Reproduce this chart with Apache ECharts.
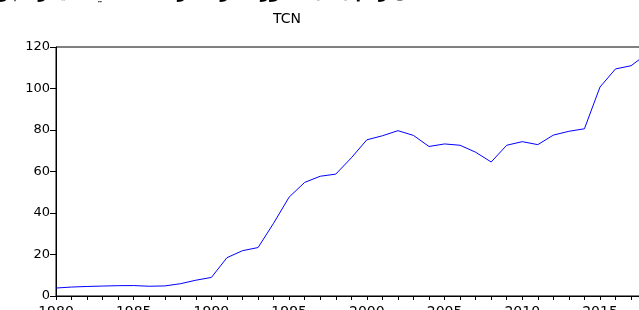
<!DOCTYPE html>
<html>
<head>
    <meta charset="utf-8">
    <title>TCN</title>
    <style>
        html, body { margin: 0; padding: 0; background: #fff; }
        #main { width: 639px; height: 310px; }
    </style>
</head>
<body>
<div id="main"></div>

<script src="https://cdn.jsdelivr.net/npm/echarts@6/dist/echarts.min.js"></script>
<script>
    // سنوات و قيم سعر الصرف الاسمي (TCN)
    var years = [1980, 1981, 1982, 1983, 1984, 1985, 1986, 1987, 1988, 1989,
                 1990, 1991, 1992, 1993, 1994, 1995, 1996, 1997, 1998, 1999,
                 2000, 2001, 2002, 2003, 2004, 2005, 2006, 2007, 2008, 2009,
                 2010, 2011, 2012, 2013, 2014, 2015, 2016, 2017, 2018];
    var tcn = [3.84, 4.32, 4.59, 4.79, 4.98, 5.03, 4.70, 4.85, 5.91, 7.61,
               8.96, 18.47, 21.84, 23.35, 35.06, 47.66, 54.75, 57.71, 58.74, 66.57,
               75.26, 77.22, 79.68, 77.39, 72.06, 73.28, 72.65, 69.29, 64.58, 72.65,
               74.39, 72.94, 77.54, 79.37, 80.58, 100.69, 109.44, 110.97, 116.59];
    var yTicks = [0, 20, 40, 60, 80, 100, 120];

    var chartTitle = 'TCN';
    var caption = 'الشكل رقم (01): تطور سعر الصرف الاسمي للدينار الجزائري';

    var myChart = echarts.init(document.getElementById('main'));

    var font = 'DejaVu Sans';

    myChart.setOption({
        animation: false,
        backgroundColor: '#fff',
        graphic: [
            {
                type: 'text',
                x: 445,
                y: -14,
                style: {
                    text: caption,
                    font: 'bold 16px "DejaVu Sans"',
                    fill: '#000',
                    align: 'right',
                    verticalAlign: 'top'
                }
            },
            {
                type: 'text',
                x: 287,
                y: 19,
                style: {
                    text: chartTitle,
                    font: '14px "DejaVu Sans"',
                    fill: '#000',
                    align: 'center',
                    verticalAlign: 'middle'
                }
            }
        ],
        grid: {
            left: 56,
            top: 47,
            bottom: 14,
            right: -7.6,   // l'axe continue au-delà du bord droit
            outerBoundsMode: 'none',
            containLabel: false,
            show: true,
            borderColor: '#000',
            borderWidth: 1
        },
        xAxis: {
            type: 'value',
            min: 1980,
            max: 2018,
            interval: 1,
            splitLine: { show: false },
            axisLine: { lineStyle: { color: '#000', width: 1 } },
            axisTick: { show: true, inside: false, length: 4, lineStyle: { color: '#000' } },
            axisLabel: {
                color: '#000',
                fontFamily: font,
                fontSize: 14,
                margin: 9,
                showMinLabel: true,
                formatter: function (v) {
                    return v % 5 === 0 ? String(v) : '';
                }
            }
        },
        yAxis: {
            type: 'value',
            min: yTicks[0],
            max: yTicks[yTicks.length - 1],
            interval: 20,
            splitLine: { show: false },
            axisLine: { show: true, lineStyle: { color: '#000', width: 1 } },
            axisTick: { show: true, length: 6, lineStyle: { color: '#000' } },
            axisLabel: {
                color: '#000',
                fontFamily: font,
                fontSize: 13,
                margin: 6
            }
        },
        series: [
            {
                name: chartTitle,
                type: 'line',
                data: years.map(function (y, i) { return [y, tcn[i]]; }),
                showSymbol: false,
                lineStyle: { color: '#0000ff', width: 1 },
                itemStyle: { color: '#0000ff' }
            }
        ]
    });
</script>
</body>
</html>
